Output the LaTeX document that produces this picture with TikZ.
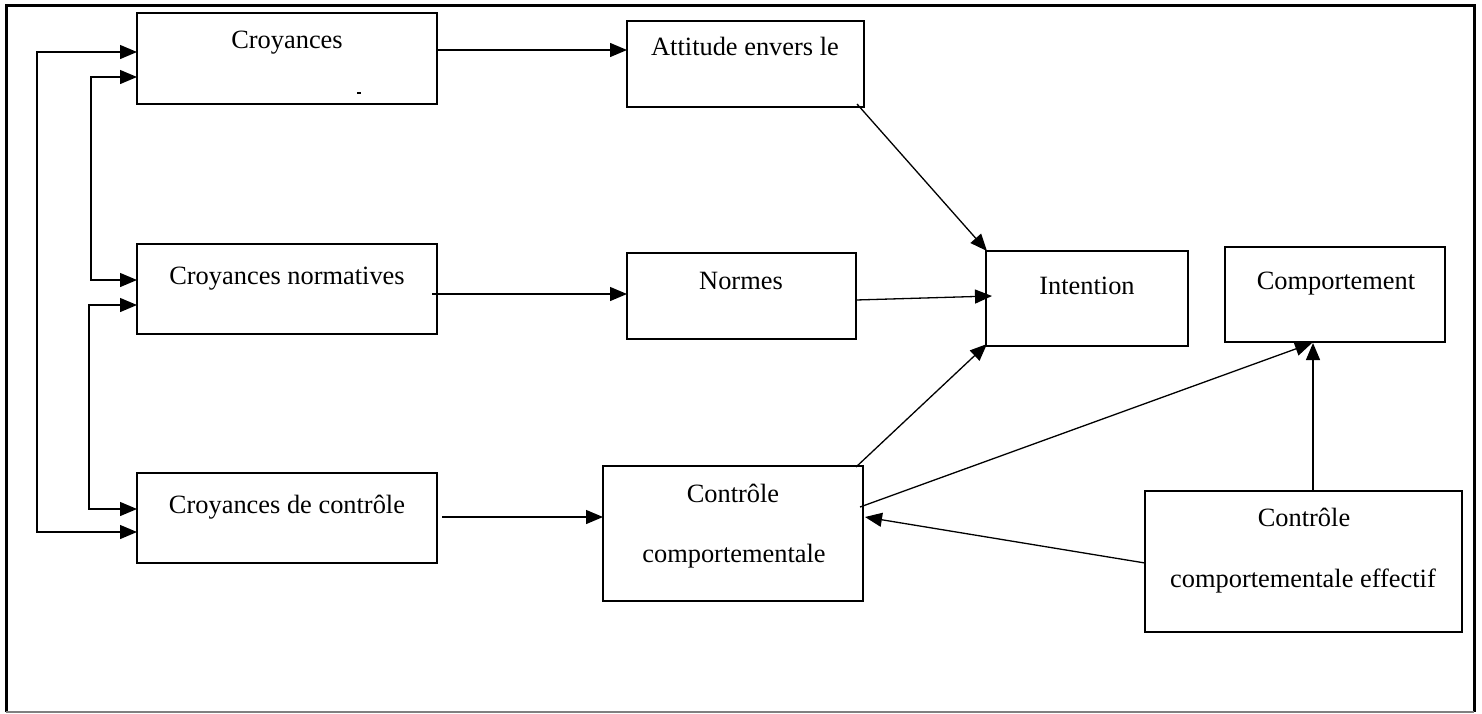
\documentclass[tikz,border=0pt]{standalone}
\usepackage{fontspec}
\setmainfont{Liberation Serif}
\usetikzlibrary{fit,calc,arrows.meta}
\tikzset{
  box/.style={draw=black, line width=1.3pt, inner sep=0pt, outer sep=0pt},
  lbl/.style={anchor=base, inner sep=0pt, font=\fontsize{13.2}{15}\selectfont},
  arr/.style={draw=black, line width=0.65pt, -{Triangle[length=8.5pt,width=7pt]}},
  dblarr/.style={draw=black, line width=0.65pt, {Triangle[length=8.5pt,width=7pt]}-{Triangle[length=8.5pt,width=7pt]}},
}
\begin{document}
\begin{tikzpicture}[x=0.5pt,y=-0.5pt]
\useasboundingbox (0,0) rectangle (1482,713);
% outer frame
\draw[line width=1.5pt] (6,712) -- (6,5) -- (1474,5) -- (1474,712);
\draw[line width=0.8pt, gray] (6,712) -- (1474,712);

% boxes
\node[box, fit={(137,13)(437,104)}] (cr) {};
\node[box, fit={(137,244)(437,334)}] (cn) {};
\node[box, fit={(137,473)(437,563)}] (cc) {};
\node[box, fit={(627,21)(864,107)}] (att) {};
\node[box, fit={(627,253)(856,339)}] (no) {};
\node[box, fit={(986,251)(1188,346)}] (int) {};
\node[box, fit={(1225,247)(1445,342)}] (comp) {};
\node[box, fit={(603,466)(863,601)}] (cb) {};
\node[box, fit={(1145,491)(1462,632)}] (eff) {};

% texts
\node[lbl] (tcr) at (287,48) {Croyances};
\node[lbl] (tcn) at (287,284) {Croyances normatives};
\node[lbl] (tcc) at (287,513) {Croyances de contrôle};
\node[lbl] (tatt) at (745,55) {Attitude envers le};
\node[lbl] (tno) at (741,289) {Normes};
\node[lbl] (tint) at (1087,294) {Intention};
\node[lbl] (tcomp) at (1336,289) {Comportement};
\node[lbl] (tcb1) at (733,502) {Contrôle};
\node[lbl] (tcb2) at (734,562) {comportementale};
\node[lbl] (teff1) at (1304,526) {Contrôle};
\node[lbl] (teff2) at (1303,587) {comportementale effectif};
% stray mark
\draw[line width=0.8pt] (357,93) -- (361,93);

% left brackets
\draw[dblarr] ($(cr.north west)+(0,39)$) -- ++(-100,0) |- ($(cc.north west)+(0,59)$);
\draw[dblarr] ($(cr.north west)+(0,64)$) -- ++(-46,0) |- ($(cn.north west)+(0,36)$);
\draw[dblarr] ($(cn.north west)+(0,61)$) -- ++(-48,0) |- ($(cc.north west)+(0,36)$);

% horizontal arrows
\draw[arr] ($(cr.north east)+(0,37)$) -- ($(att.north west)+(0,29)$);
\draw[arr] ($(cn.north east)+(-5,50)$) -- ($(no.north west)+(0,41)$);
\draw[arr] ($(cc.north east)+(5,44)$) -- ($(cb.north west)+(0,51)$);

% into intention
\draw[arr] ($(att.south east)+(-7,-3)$) -- ($(int.north west)+(1,0)$);
\draw[arr] ($(no.north east)+(0,47)$) -- ($(int.north west)+(6,45)$);
\draw[arr] ($(cb.north east)+(-7,1)$) -- ($(int.south west)+(1,-2)$);

% into comportement
\draw[arr] ($(cb.north east)+(-3,41)$) -- ($(comp.south west)+(87,1)$);
\draw[arr] ($(eff.north west)+(168,0)$) -- ($(comp.south west)+(88,1)$);

% effectif to controle
\draw[arr] ($(eff.north west)+(0,72)$) -- ($(cb.north east)+(2,51)$);
\end{tikzpicture}
\end{document}
